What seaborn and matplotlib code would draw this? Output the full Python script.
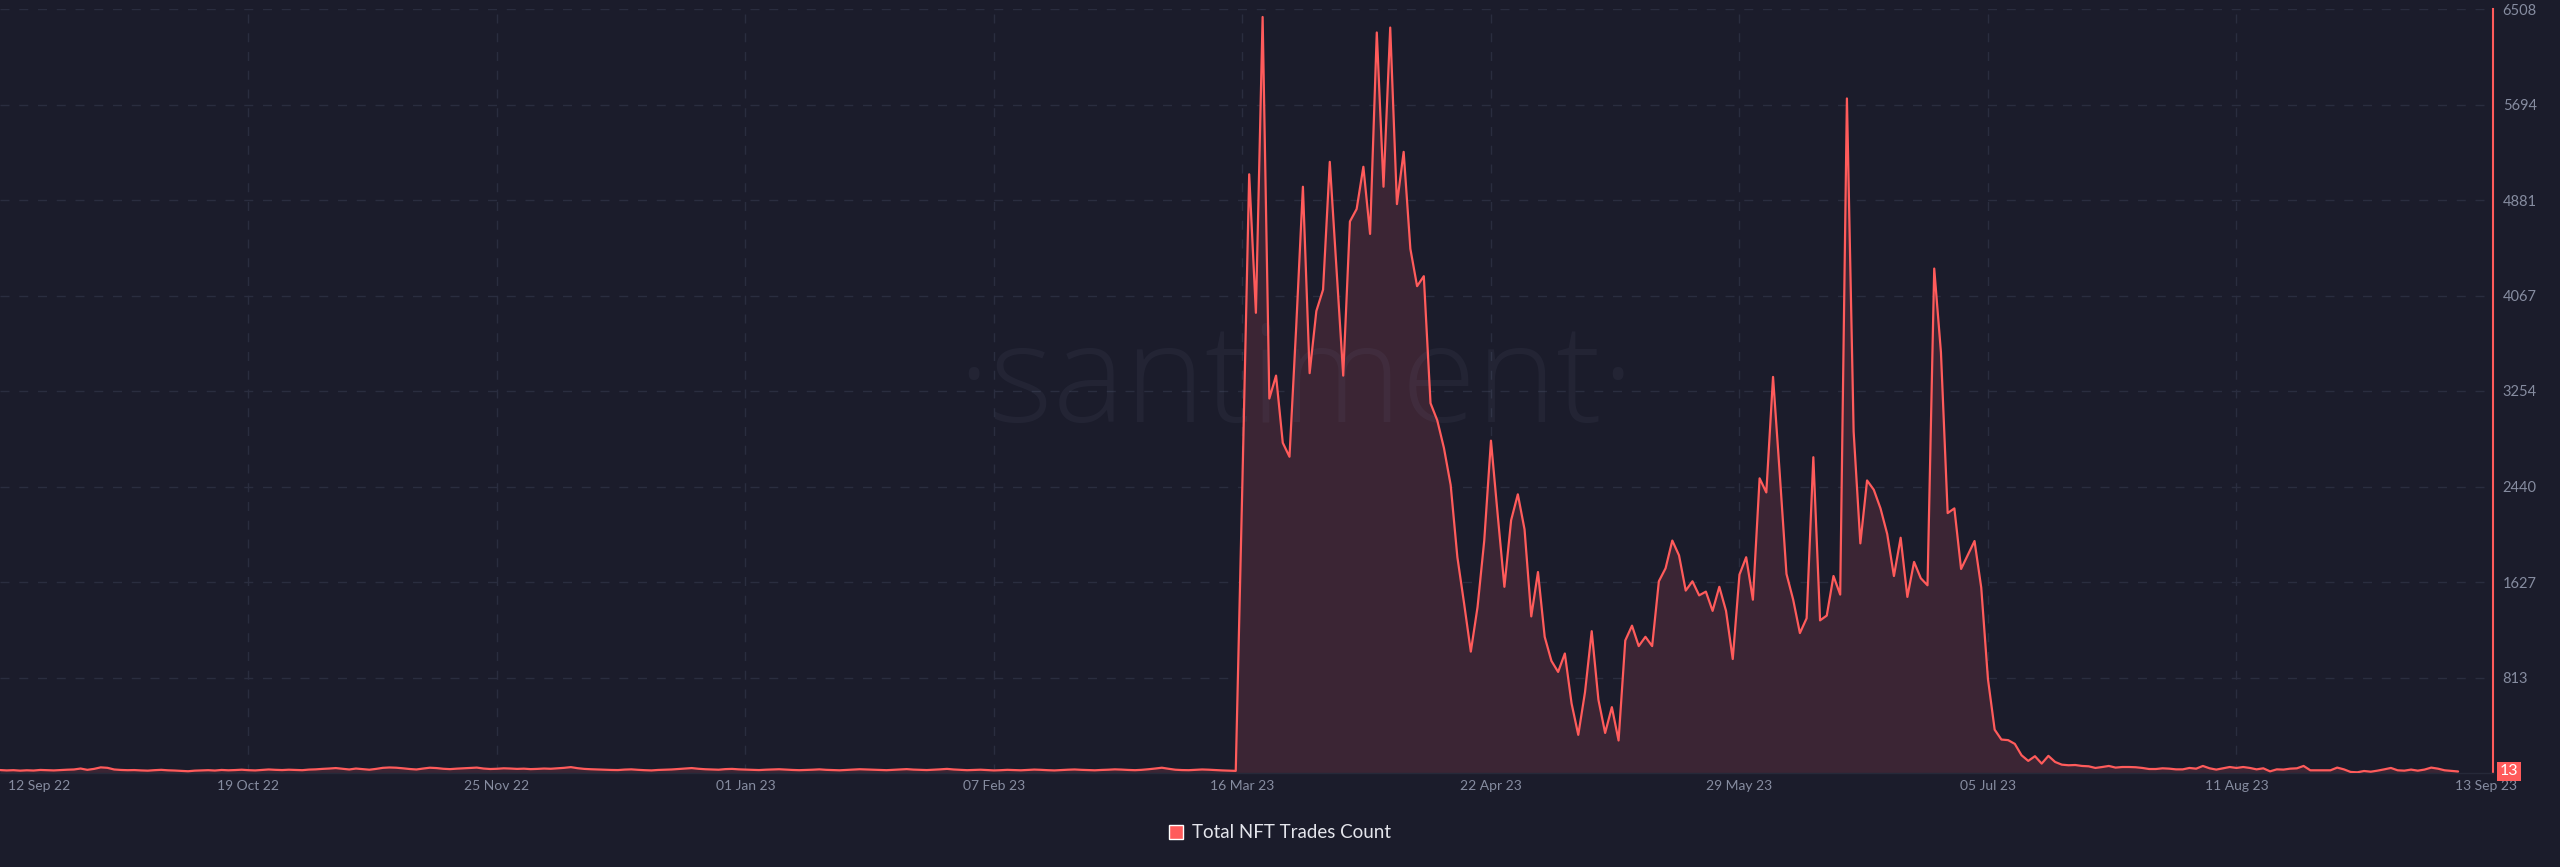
import numpy as np
import pandas as pd
import matplotlib
matplotlib.use("Agg")
import matplotlib.pyplot as plt
import matplotlib.transforms as mtransforms
from matplotlib.patches import Patch
import seaborn as sns

# ============================================
# DATA (daily NFT trades)
# ============================================

start_date = "2022-09-12"

# 12 Sep 22 .. 15 Mar 23 : almost nothing happens
quiet_counts = [
    25, 22, 24, 20, 23, 21, 26, 24, 22, 25,
    28, 30, 38, 27, 35, 48, 44, 30, 26, 24,
    25, 22, 20, 24, 27, 23, 21, 18, 15, 20,
    22, 24, 21, 26, 23, 25, 28, 24, 22, 26,
    30, 27, 25, 28, 26, 24, 29, 31, 35, 38,
    42, 36, 30, 38, 33, 28, 35, 44, 47, 45,
    40, 34, 30, 38, 45, 42, 36, 33, 37, 40,
    43, 46, 38, 34, 36, 40, 38, 35, 37, 33,
    35, 38, 36, 40, 44, 50, 41, 35, 32, 30,
    28, 26, 25, 29, 31, 27, 24, 22, 26, 28,
    30, 34, 38, 42, 36, 32, 30, 28, 33, 35,
    31, 29, 27, 25, 28, 30, 32, 29, 26, 24,
    26, 28, 31, 27, 25, 23, 26, 29, 32, 30,
    28, 26, 24, 27, 30, 33, 29, 27, 25, 28,
    31, 35, 30, 27, 24, 26, 28, 25, 22, 24,
    27, 25, 23, 26, 29, 27, 24, 22, 25, 28,
    30, 27, 25, 23, 26, 28, 31, 29, 26, 24,
    27, 32, 38, 45, 36, 28, 25, 24, 27, 30,
    28, 25, 22, 20, 18,
]

# 16 Mar 23 .. 07 Jul 23 : the surge
surge_counts = [
    2500, 5100, 3920, 6440, 3190, 3385, 2813, 2694, 3800, 4994,
    3406, 3935, 4117, 5206, 4300, 3385, 4698, 4804, 5164, 4592,
    6308, 4994, 6350, 4846, 5291, 4465, 4147, 4232, 3150, 3005,
    2768, 2453, 1838, 1444, 1034, 1413, 1980, 2831, 2201, 1586,
    2153, 2374, 2075, 1334, 1712, 1160, 955, 861, 1018, 593,
    325, 687, 1208, 624, 341, 561, 277, 1129, 1255, 1081,
    1160, 1081, 1633, 1744, 1980, 1854, 1554, 1633, 1513, 1545,
    1381, 1586, 1381, 971, 1690, 1838, 1476, 2510, 2390, 3374,
    2548, 1696, 1476, 1192, 1318, 2690, 1300, 1341, 1678, 1520,
    5746, 2909, 1956, 2492, 2413, 2254, 2036, 1678, 2004, 1500,
    1798, 1659, 1599, 4297, 3583, 2214, 2254, 1738, 1857, 1976,
    1579, 800, 369, 285, 280, 248,
]

# 08 Jul 23 .. 13 Sep 23 : the fade out
tail_counts = [
    151, 103, 143, 80, 146, 94, 71, 66, 68, 60,
    57, 43, 51, 60, 46, 51, 51, 49, 43, 34,
    34, 40, 37, 31, 31, 43, 37, 60, 40, 29,
    40, 51, 43, 51, 43, 31, 40, 14, 31, 29,
    37, 40, 60, 23, 23, 23, 23, 46, 31, 9,
    6, 17, 11, 20, 31, 43, 23, 20, 29, 20,
    29, 46, 37, 23, 18, 13,
]

tick_dates = ["2022-09-12", "2022-10-19", "2022-11-25", "2023-01-01",
              "2023-02-07", "2023-03-16", "2023-04-22", "2023-05-29",
              "2023-07-05", "2023-08-11", "2023-09-13"]
tick_labels = ["12 Sep 22", "19 Oct 22", "25 Nov 22", "01 Jan 23",
               "07 Feb 23", "16 Mar 23", "22 Apr 23", "29 May 23",
               "05 Jul 23", "11 Aug 23", "13 Sep 23"]

y_max = 6508
y_tick_labels = ["813", "1627", "2440", "3254", "4067", "4881", "5694", "6508"]

counts = quiet_counts + surge_counts + tail_counts
df = pd.DataFrame({
    "date": pd.date_range(start_date, periods=len(counts), freq="D"),
    "trades": counts,
})
last_value = counts[-1]

# ============================================
# STYLE
# ============================================

BG = "#1b1c2b"
RED = "#ff5b5b"
FILL = "#3b2534"
GRID = "#2a2d3f"
TICK = "#868ca0"

sns.set_theme(style="dark")
plt.rcParams["font.family"] = ["Lato", "DejaVu Sans"]

fig = plt.figure(figsize=(25.6, 8.67), dpi=100, facecolor=BG)
ax = fig.add_axes([0, 1 - 773 / 867, 2493 / 2560, (773 - 9) / 867])
ax.set_facecolor(BG)

# grid
tick_pos = pd.to_datetime(tick_dates)
for d in tick_pos[1:-1]:
    ax.axvline(d, color=GRID, lw=1, dashes=(6.5, 7), zorder=1)
y_ticks = np.linspace(0, y_max, 9)[1:]
for y in y_ticks:
    ax.axhline(y, color=GRID, lw=1, dashes=(6.5, 7), zorder=1)

# series
ax.fill_between(df["date"], 0, df["trades"], color=FILL, lw=0, zorder=2)
sns.lineplot(data=df, x="date", y="trades", ax=ax, color=RED, linewidth=1.6,
             zorder=4)

# watermark (sits over the fill, under the line)
ax.text(0.52, 0.46, "\u00b7santiment\u00b7", transform=ax.transAxes,
        ha="center", va="baseline", fontsize=98, color="#8890b0", alpha=0.075,
        family=["Open Sans", "DejaVu Sans"], fontweight="light", zorder=3)

ax.set_xlim(pd.Timestamp(start_date), pd.Timestamp(start_date) + pd.Timedelta(days=371.2))
ax.set_ylim(0, y_max)
ax.set_xlabel("")
ax.set_ylabel("")

# axes
ax.yaxis.tick_right()
ax.set_yticks(y_ticks)
ax.set_yticklabels(y_tick_labels)
ax.set_xticks(tick_pos)
ax.set_xticklabels(tick_labels)
ax.tick_params(axis="both", length=0, colors=TICK)
ax.tick_params(axis="y", pad=7, labelsize=10.5)
ax.tick_params(axis="x", pad=5, labelsize=10)
xl = ax.get_xticklabels()
xl[0].set_ha("left")
xl[0].set_transform(xl[0].get_transform() +
                    mtransforms.ScaledTranslation(8 / 100, 0, fig.dpi_scale_trans))
xl[-1].set_ha("left")
xl[-1].set_transform(xl[-1].get_transform() +
                     mtransforms.ScaledTranslation(-3 / 100, 0, fig.dpi_scale_trans))
ax.grid(False)

for side in ["top", "left"]:
    ax.spines[side].set_visible(False)
ax.spines["bottom"].set_color("#262939")
ax.spines["bottom"].set_linewidth(1)
ax.spines["right"].set_color(RED)
ax.spines["right"].set_linewidth(1.5)

# last value badge
ax.annotate(str(last_value), xy=(1, last_value), xycoords=ax.get_yaxis_transform(),
            xytext=(7, 0), textcoords="offset pixels", ha="left", va="center",
            color="white", fontsize=11.5,
            bbox=dict(boxstyle="square,pad=0.18", fc=RED, ec="none"))

# legend
fig.legend(handles=[Patch(facecolor=RED, label="Total NFT Trades Count")],
           loc="center", bbox_to_anchor=(0.5, 1 - 833 / 867), frameon=False,
           fontsize=13.5, labelcolor="#e4e5ec", handlelength=0.75, handleheight=0.75,
           handletextpad=0.5)

fig.savefig("out.png", dpi=100, facecolor=BG)
